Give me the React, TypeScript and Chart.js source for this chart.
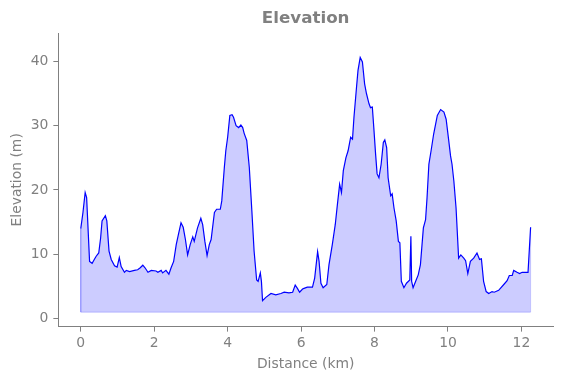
import React, { useEffect, useRef } from "react";
import { Chart, registerables } from "chart.js";

Chart.register(...registerables);

const distanceKm: number[] = [
  0.0, 0.06, 0.12, 0.16, 0.24, 0.31, 0.38, 0.42, 0.49, 0.54, 0.58, 0.67, 0.71, 0.77, 0.83, 0.92, 0.99,
  1.05, 1.1, 1.19, 1.24, 1.33, 1.46, 1.55, 1.62, 1.69, 1.75, 1.83, 1.92, 2.05, 2.1, 2.19, 2.23, 2.32,
  2.4, 2.46, 2.53, 2.6, 2.66, 2.73, 2.79, 2.85, 2.91, 2.98, 3.05, 3.09, 3.18, 3.27, 3.32, 3.38, 3.44,
  3.5, 3.55, 3.64, 3.7, 3.8, 3.84, 3.91, 3.95, 4.0, 4.06, 4.12, 4.16, 4.23, 4.3, 4.36, 4.41, 4.45,
  4.52, 4.59, 4.66, 4.72, 4.79, 4.83, 4.89, 4.92, 4.95, 5.04, 5.18, 5.31, 5.45, 5.54, 5.67, 5.77,
  5.84, 5.9, 5.96, 6.04, 6.08, 6.17, 6.31, 6.37, 6.45, 6.49, 6.54, 6.6, 6.7, 6.76, 6.85, 6.93, 6.99,
  7.05, 7.1, 7.15, 7.22, 7.28, 7.35, 7.4, 7.44, 7.51, 7.55, 7.61, 7.67, 7.73, 7.78, 7.85, 7.89, 7.94,
  7.98, 8.03, 8.07, 8.12, 8.18, 8.24, 8.28, 8.33, 8.37, 8.44, 8.48, 8.53, 8.59, 8.65, 8.69, 8.73, 8.8,
  8.87, 8.96, 8.99, 9.01, 9.05, 9.12, 9.19, 9.25, 9.33, 9.39, 9.43, 9.48, 9.54, 9.61, 9.71, 9.8, 9.89,
  9.95, 10.02, 10.07, 10.11, 10.16, 10.22, 10.29, 10.35, 10.43, 10.48, 10.54, 10.61, 10.7, 10.79,
  10.86, 10.91, 10.97, 11.04, 11.11, 11.2, 11.26, 11.38, 11.52, 11.61, 11.67, 11.75, 11.79, 11.88,
  11.95, 12.02, 12.11, 12.18, 12.25,
];

const elevationM: number[] = [
  14.0, 16.5, 19.6, 18.8, 8.9, 8.6, 9.3, 9.7, 10.2, 12.5, 15.2, 16.0, 15.2, 10.5, 9.2, 8.2, 8.0,
  9.5, 8.1, 7.2, 7.5, 7.3, 7.5, 7.6, 7.9, 8.3, 7.9, 7.2, 7.5, 7.4, 7.2, 7.5, 7.1, 7.5,
  6.9, 7.9, 8.9, 11.5, 13.1, 14.9, 14.2, 12.3, 9.9, 11.5, 12.7, 12.0, 14.1, 15.6, 14.6, 12.0, 9.8,
  11.5, 12.3, 16.5, 17.0, 17.0, 18.3, 23.5, 26.1, 28.2, 31.6, 31.7, 31.3, 30.0, 29.7, 30.1, 29.7, 28.8,
  27.7, 23.5, 16.7, 10.5, 6.0, 5.8, 7.1, 5.8, 2.8, 3.3, 3.9, 3.7, 3.9, 4.1, 4.0, 4.1,
  5.2, 4.7, 4.1, 4.6, 4.7, 4.9, 4.9, 6.3, 10.4, 8.9, 5.5, 4.8, 5.3, 8.4, 11.5, 14.6, 17.8,
  20.9, 19.6, 23.0, 25.0, 26.1, 28.2, 27.9, 31.3, 36.0, 38.6, 40.6, 39.9, 36.5, 35.0, 33.4, 32.8, 32.9,
  29.7, 25.5, 22.5, 21.9, 24.0, 27.4, 27.8, 26.6, 21.9, 19.1, 19.4, 17.2, 15.2, 12.0, 11.8, 5.8, 4.8,
  5.5, 6.0, 12.8, 5.8, 4.8, 5.8, 6.8, 8.4, 14.1, 15.4, 18.8, 24.0, 26.1, 28.7, 31.6, 32.5, 32.1,
  31.0, 27.7, 25.3, 24.0, 21.4, 17.2, 9.4, 9.9, 9.4, 9.0, 7.0, 8.9, 9.4, 10.2,
  9.2, 9.3, 5.8, 4.2, 3.9, 4.2, 4.1, 4.4, 5.3, 5.9, 6.7, 6.7, 7.5, 7.2,
  7.0, 7.2, 7.2, 7.2, 14.2,
];

const fillBaseline = 1;
const xTicks: number[] = [0, 2, 4, 6, 8, 10, 12];
const yTicks: number[] = [0, 10, 20, 30, 40];

const GRAY = "#808080";
const FONT = "'DejaVu Sans', sans-serif";

export default function App() {
  const canvasRef = useRef<HTMLCanvasElement | null>(null);

  useEffect(() => {
    document.body.style.margin = "0";
    const canvas = canvasRef.current;
    if (!canvas) return;

    const points = distanceKm.map((d, i) => ({ x: d, y: elevationM[i] }));
    const n = distanceKm.length;
    const outline = [
      { x: distanceKm[0], y: elevationM[0] },
      { x: distanceKm[0], y: fillBaseline },
      { x: distanceKm[n - 1], y: fillBaseline },
      { x: distanceKm[n - 1], y: elevationM[n - 1] },
    ];

    const chart = new Chart(canvas, {
      type: "line",
      data: {
        datasets: [
          {
            data: points,
            borderColor: "#0000ff",
            borderWidth: 1.2,
            pointRadius: 0,
            tension: 0,
            fill: { value: fillBaseline },
            backgroundColor: "rgba(0,0,255,0.2)",
            order: 1,
          },
          {
            data: outline,
            borderColor: "rgba(0,0,255,0.2)",
            borderWidth: 1,
            pointRadius: 0,
            fill: false,
            order: 2,
          },
        ],
      },
      options: {
        responsive: false,
        animation: false,
        events: [],
        layout: { padding: { left: 7, right: 9, top: 0, bottom: 4 } },
        plugins: {
          legend: { display: false },
          tooltip: { enabled: false },
          title: {
            display: true,
            text: "Elevation",
            color: GRAY,
            fullSize: false,
            font: { family: FONT, size: 16.7, weight: "bold" },
            padding: { top: 9, bottom: 4 },
          },
        },
        scales: {
          x: {
            type: "linear",
            min: -0.61,
            max: 12.86,
            afterBuildTicks: (axis: any) => {
              axis.ticks = xTicks.map((v) => ({ value: v }));
            },
            grid: {
              display: true,
              drawOnChartArea: false,
              drawTicks: true,
              tickLength: 5,
              tickColor: GRAY,
              color: GRAY,
            },
            border: { display: true, color: GRAY, width: 1 },
            ticks: {
              color: GRAY,
              padding: 3,
              maxRotation: 0,
              font: { family: FONT, size: 13.9 },
            },
            title: {
              display: true,
              text: "Distance (km)",
              color: GRAY,
              font: { family: FONT, size: 13.9 },
              padding: { top: 2, bottom: 1 },
            },
          },
          y: {
            type: "linear",
            min: -1.25,
            max: 44.4,
            afterBuildTicks: (axis: any) => {
              axis.ticks = yTicks.map((v) => ({ value: v }));
            },
            grid: {
              display: true,
              drawOnChartArea: false,
              drawTicks: true,
              tickLength: 5,
              tickColor: GRAY,
              color: GRAY,
            },
            border: { display: true, color: GRAY, width: 1 },
            ticks: {
              color: GRAY,
              padding: 5,
              font: { family: FONT, size: 13.9 },
            },
            title: {
              display: true,
              text: "Elevation (m)",
              color: GRAY,
              font: { family: FONT, size: 13.9 },
              padding: { top: 2, bottom: 0 },
            },
          },
        },
      },
    });

    return () => chart.destroy();
  }, []);

  return (
    <div style={{ width: 562, height: 378 }}>
      <canvas ref={canvasRef} width={562} height={378} />
    </div>
  );
}
